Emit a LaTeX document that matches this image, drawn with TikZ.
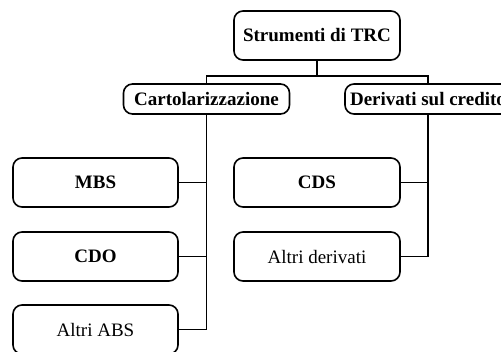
\documentclass[tikz,border=0pt]{standalone}
\usepackage{fontspec}
\setmainfont{Liberation Serif}
\usetikzlibrary{positioning}

\begin{document}
\begin{tikzpicture}[x=1pt,y=-1pt]

          \tikzstyle{box} = [draw,line width=1.6pt,rounded corners=9pt,inner sep=0pt,minimum width=166pt,minimum height=49pt,font=\fontsize{19}{22}\selectfont];
          \tikzstyle{boldBox} = [box,font=\fontsize{19}{22}\selectfont\bfseries];
          \tikzstyle{link} = [line width=1.6pt];

          \useasboundingbox (0,0) rectangle (501,351);
          \clip (0,0) rectangle (501,351);

          \node[boldBox] (trc) at (317,35.5) {Strumenti di TRC};
          \node[boldBox,minimum height=30pt] (cart) at (206.5,99) {Cartolarizzazione};
          \node[boldBox,minimum height=30pt] (deriv) at (428,99) {Derivati sul credito};
          \node[boldBox,minimum width=165pt] (mbs) at (95.5,182.5) {MBS};
          \node[boldBox,minimum width=165pt] (cdo) at (95.5,256.5) {CDO};
          \node[box,minimum width=165pt] (abs) at (95.5,329.5) {Altri ABS};
          \node[boldBox] (cds) at (317,182.5) {CDS};
          \node[box] (altri) at (317,256.5) {Altri derivati};
          \coordinate (split) at (317,76);

          \draw[link] (trc) -- (split);
          \draw[link] (cart.north) |- (split) -| (deriv.north);
          \draw[link] (cart.south) |- (abs.east);
          \draw[link] (mbs.east) -- (mbs.east -| cart.south);
          \draw[link] (cdo.east) -- (cdo.east -| cart.south);
          \draw[link] (deriv.south) |- (altri.east);
          \draw[link] (cds.east) -- (cds.east -| deriv.south);
        \end{tikzpicture}
\end{document}
